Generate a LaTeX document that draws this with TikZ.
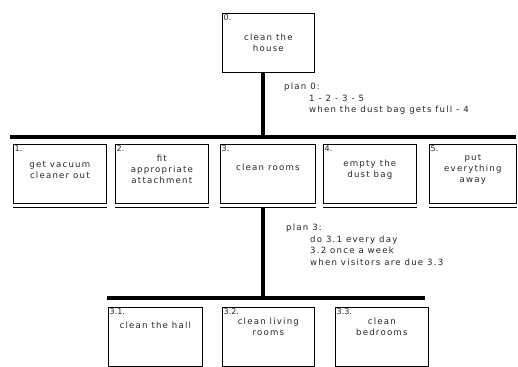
\documentclass[tikz,border=0pt]{standalone}
\usepackage{fontspec}
\setmainfont{DejaVu Sans}
\newfontfamily\spaced[LetterSpace=14]{DejaVu Sans}
\begin{document}
\begin{tikzpicture}[x=1pt,y=-1pt,
  box/.style={draw, line width=0.7pt, minimum width=93pt, minimum height=59pt, inner sep=0pt, anchor=north west},
  txt/.style={align=center, inner sep=0pt, font=\spaced\fontsize{8.6}{11}\selectfont, text=black!85},
  num/.style={anchor=north west, inner sep=1.5pt, font=\fontsize{8}{9}\selectfont, text=black!85},
  plan/.style={align=left, anchor=north west, inner sep=0pt, font=\spaced\fontsize{8.6}{11.5}\selectfont, text=black!85},
  bar/.style={line width=4pt},
  link/.style={line width=4pt},
  shade/.style={line width=1.3pt}]
\useasboundingbox (0,0) rectangle (518,366);

% goal 0
\node[box, minimum width=92pt] (b0) at (222,13) {};
\node[num] at (b0.north west) {0.};
\node[txt] (b0t) at ([yshift=-29.5pt]b0.north) {clean the\\house};

% top-level bar
\coordinate (barL) at (10,137);
\coordinate (barR) at (516,137);
\coordinate (barM) at (263,137);
\draw[bar] (barL) -- (barR);
\draw[link] (b0.south -| barM) -- (barM);

% sub-tasks 1..5
\node[box] (b1) at (13,144) {};
\node[box] (b2) at (115,144) {};
\node[box, minimum width=95pt] (b3) at (220,144) {};
\node[box] (b4) at (323,144) {};
\node[box, minimum width=87pt] (b5) at (429,144) {};
\foreach \b in {b1,b2,b3,b4,b5}
  \draw[shade] ([yshift=-4pt]\b.south west) -- ([yshift=-4pt]\b.south east);

\node[num] at (b1.north west) {1.};
\node[num] at (b2.north west) {2.};
\node[num] at (b3.north west) {3.};
\node[num] at (b4.north west) {4.};
\node[num] at (b5.north west) {5.};
\node[txt] (b1t) at ([yshift=-26pt]b1.north) {get vacuum\\cleaner out};
\node[txt] (b2t) at ([yshift=-25pt]b2.north) {fit\\appropriate\\attachment};
\node[txt] (b3t) at ([yshift=-23pt]b3.north) {clean rooms};
\node[txt] (b4t) at ([yshift=-25.5pt]b4.north) {empty the\\dust bag};
\node[txt] (b5t) at ([yshift=-25pt]b5.north) {put\\everything\\away};

% plan 0
\node[plan] (p0) at (284,83) {plan 0:\\\hspace*{25pt}1 - 2 - 3 - 5\\\hspace*{25pt}when the dust bag gets full - 4};

% second-level bar
\coordinate (bar2L) at (107,298);
\coordinate (bar2R) at (425,298);
\coordinate (bar2M) at (263,298);
\draw[link] ([yshift=-4pt]b3.south -| bar2M) -- (bar2M);
\draw[bar] (bar2L) -- (bar2R);

% plan 3
\node[plan] (p3) at (286,224) {plan 3:\\\hspace*{24pt}do 3.1 every day\\\hspace*{24pt}3.2 once a week\\\hspace*{24pt}when visitors are due 3.3};

% sub-tasks 3.1..3.3
\node[box, minimum width=94pt] (b31) at (108,307) {};
\node[box, minimum width=92pt] (b32) at (222,307) {};
\node[box] (b33) at (335,307) {};
\node[num] at (b31.north west) {3.1.};
\node[num] at (b32.north west) {3.2.};
\node[num] at (b33.north west) {3.3.};
\node[txt] (b31t) at ([yshift=-18pt]b31.north) {clean the hall};
\node[txt] (b32t) at ([yshift=-20pt]b32.north) {clean living\\rooms};
\node[txt] (b33t) at ([yshift=-20pt]b33.north) {clean\\bedrooms};
\end{tikzpicture}
\end{document}
